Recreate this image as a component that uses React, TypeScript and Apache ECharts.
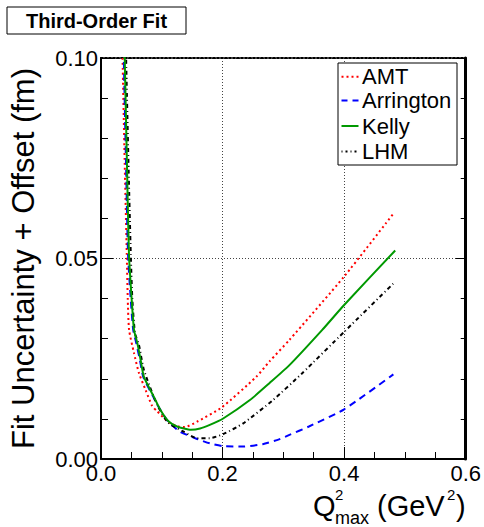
import React, { useEffect, useRef } from "react";
import * as echarts from "echarts";

const FONT = "'Liberation Sans', Arial, Helvetica, sans-serif";

const seriesNames = ["AMT", "Arrington", "Kelly", "LHM"];
const seriesColors = ["#ff0000", "#0000ff", "#009900", "#000000"];

const amtPoints: number[][] = [
  [0.0345, 0.105], [0.0354, 0.1], [0.0388, 0.075], [0.0424, 0.051], [0.044, 0.04],
  [0.0462, 0.0322], [0.0543, 0.0264], [0.0625, 0.0214], [0.0734, 0.0172], [0.0843, 0.0132],
  [0.0924, 0.0119], [0.111, 0.0092], [0.128, 0.0081], [0.138, 0.008], [0.158, 0.0093],
  [0.198, 0.0128], [0.2555, 0.0205], [0.277, 0.0243], [0.31, 0.0297], [0.4, 0.0455], [0.48, 0.061],
];
const arringtonPoints: number[][] = [
  [0.0368, 0.105], [0.0375, 0.1], [0.041, 0.075], [0.0445, 0.051], [0.049, 0.0397],
  [0.053, 0.0322], [0.058, 0.0289], [0.064, 0.0247], [0.0695, 0.0205], [0.086, 0.0155],
  [0.097, 0.0124], [0.111, 0.0092], [0.1195, 0.0081], [0.13, 0.0068], [0.158, 0.005],
  [0.179, 0.0039], [0.201, 0.0032], [0.234, 0.0031], [0.266, 0.0037], [0.293, 0.0049],
  [0.31, 0.006], [0.342, 0.0081], [0.4, 0.0124], [0.481, 0.0211],
];
const kellyPoints: number[][] = [
  [0.0383, 0.105], [0.039, 0.1], [0.0425, 0.075], [0.046, 0.051], [0.0505, 0.0397],
  [0.0543, 0.0322], [0.0598, 0.0289], [0.0652, 0.0247], [0.0706, 0.0205], [0.087, 0.0155],
  [0.0978, 0.0122], [0.111, 0.0094], [0.125, 0.0081], [0.148, 0.0073], [0.163, 0.0076],
  [0.179, 0.0085], [0.201, 0.0101], [0.245, 0.0147], [0.277, 0.0189], [0.31, 0.0234],
  [0.364, 0.0322], [0.4, 0.0384], [0.484, 0.052],
];
const lhmPoints: number[][] = [
  [0.0405, 0.105], [0.0413, 0.1], [0.045, 0.075], [0.049, 0.051], [0.0516, 0.0397],
  [0.056, 0.0313], [0.0625, 0.0284], [0.0706, 0.0222], [0.0924, 0.0135], [0.111, 0.009],
  [0.136, 0.0068], [0.158, 0.0052], [0.179, 0.0052], [0.201, 0.0062], [0.234, 0.0089],
  [0.283, 0.0147], [0.331, 0.0214], [0.4, 0.0317], [0.484, 0.0442],
];
const allPoints = [amtPoints, arringtonPoints, kellyPoints, lhmPoints];
const dashTypes: any[] = [[2, 3], [7, 5], "solid", [4, 3, 1, 3]];
const legendDash: any[] = [[2, 3], [6, 5], null, [1, 3, 2, 3]];

const xRange = [0, 0.6];
const yRange = [0, 0.1];

export default function App() {
  const ref = useRef<HTMLDivElement>(null);
  useEffect(() => {
    if (!ref.current) return;
    const chart = echarts.init(ref.current, undefined, { renderer: "svg" });
    const grid = { left: 100, top: 58, width: 368, height: 401 };
    const splitLine = { show: true, lineStyle: { color: "#444", type: [1, 2], width: 1 } };

    const legendBox = { x: 338, y: 63, w: 119, h: 102 };
    const legendRowY = [76.7, 100.5, 126, 151.5];
    const legendGraphics: any[] = [
      {
        type: "rect",
        shape: { x: legendBox.x, y: legendBox.y, width: legendBox.w, height: legendBox.h },
        style: { fill: "#fff", stroke: "#000", lineWidth: 1 },
        z: 10,
      },
    ];
    seriesNames.forEach((name, i) => {
      legendGraphics.push({
        type: "line",
        shape: { x1: 341.5, y1: legendRowY[i], x2: 358.5, y2: legendRowY[i] },
        style: {
          stroke: seriesColors[i],
          lineWidth: 2,
          lineDash: legendDash[i] || undefined,
        },
        z: 11,
      });
      legendGraphics.push({
        type: "text",
        x: 362,
        y: legendRowY[i],
        style: {
          text: name,
          font: `22px ${FONT}`,
          fill: "#000",
          align: "left",
          verticalAlign: "middle",
        },
        z: 11,
      });
    });

    chart.setOption({
      animation: false,
      backgroundColor: "#ffffff",
      grid,
      xAxis: [
        {
          type: "value",
          min: xRange[0],
          max: xRange[1],
          interval: 0.2,
          position: "bottom",
          axisLine: { show: true, onZero: false, lineStyle: { color: "#000", width: 2 } },
          axisTick: { show: true, inside: true, length: 12, lineStyle: { color: "#000", width: 1 } },
          minorTick: { show: true, splitNumber: 4, length: 7, lineStyle: { color: "#000", width: 1 } },
          axisLabel: {
            margin: 3,
            fontSize: 22,
            color: "#000",
            fontFamily: FONT,
            formatter: (v: number) => v.toFixed(1),
          },
          splitLine,
        },
        {
          type: "value",
          min: xRange[0],
          max: xRange[1],
          interval: 0.2,
          position: "top",
          axisLine: { show: true, onZero: false, lineStyle: { color: "#000", width: 2, type: [2, 2] } },
          axisTick: { show: false },
          axisLabel: { show: false },
          splitLine: { show: false },
        },
      ],
      yAxis: [
        {
          type: "value",
          min: yRange[0],
          max: yRange[1],
          interval: 0.05,
          position: "left",
          axisLine: { show: true, onZero: false, lineStyle: { color: "#000", width: 2 } },
          axisTick: { show: true, inside: true, length: 12, lineStyle: { color: "#000", width: 1 } },
          minorTick: { show: true, splitNumber: 5, length: 7, lineStyle: { color: "#000", width: 1 } },
          axisLabel: {
            margin: 3,
            fontSize: 22,
            color: "#000",
            fontFamily: FONT,
            formatter: (v: number) => v.toFixed(2),
          },
          splitLine,
          name: "Fit Uncertainty + Offset (fm)",
          nameLocation: "middle",
          nameRotate: 90,
          nameGap: 62,
          nameTextStyle: { fontSize: 31, color: "#000", fontFamily: FONT },
        },
        {
          type: "value",
          min: yRange[0],
          max: yRange[1],
          interval: 0.05,
          position: "right",
          axisLine: { show: true, onZero: false, lineStyle: { color: "#000", width: 3 } },
          axisTick: { show: true, inside: true, length: 10, lineStyle: { color: "#000", width: 1 } },
          minorTick: { show: true, splitNumber: 5, length: 5, lineStyle: { color: "#000", width: 1 } },
          axisLabel: { show: false },
          splitLine: { show: false },
        },
      ],
      series: seriesNames.map((name, i) => ({
        name,
        type: "line",
        xAxisIndex: 0,
        yAxisIndex: 0,
        data: allPoints[i],
        symbol: "none",
        showSymbol: false,
        smooth: 0.2,
        clip: true,
        color: seriesColors[i],
        lineStyle: { color: seriesColors[i], width: 2, type: dashTypes[i] },
        z: 3 + (i === 2 ? 1 : 0),
      })),
      graphic: [
        {
          type: "rect",
          shape: { x: 7, y: 7, width: 179, height: 27 },
          style: { fill: "#fff", stroke: "#000", lineWidth: 1 },
        },
        {
          type: "text",
          x: 96.5,
          y: 21,
          style: {
            text: "Third-Order Fit",
            font: `bold 20px ${FONT}`,
            fill: "#000",
            align: "center",
            verticalAlign: "middle",
          },
        },
        {
          type: "text",
          x: 313,
          y: 506,
          style: { text: "Q", font: `29px ${FONT}`, fill: "#000", align: "left", verticalAlign: "middle" },
        },
        {
          type: "text",
          x: 335,
          y: 494,
          style: { text: "2", font: `15px ${FONT}`, fill: "#000", align: "left", verticalAlign: "middle" },
        },
        {
          type: "text",
          x: 335,
          y: 518,
          style: { text: "max", font: `18px ${FONT}`, fill: "#000", align: "left", verticalAlign: "middle" },
        },
        {
          type: "text",
          x: 377,
          y: 506,
          style: { text: "(GeV", font: `29px ${FONT}`, fill: "#000", align: "left", verticalAlign: "middle" },
        },
        {
          type: "text",
          x: 447,
          y: 494,
          style: { text: "2", font: `15px ${FONT}`, fill: "#000", align: "left", verticalAlign: "middle" },
        },
        {
          type: "text",
          x: 456,
          y: 506,
          style: { text: ")", font: `29px ${FONT}`, fill: "#000", align: "left", verticalAlign: "middle" },
        },
        ...legendGraphics,
      ],
    });
    return () => chart.dispose();
  }, []);
  return (
    <div
      ref={ref}
      style={{ position: "fixed", left: 0, top: 0, width: 484, height: 527 }}
    />
  );
}
